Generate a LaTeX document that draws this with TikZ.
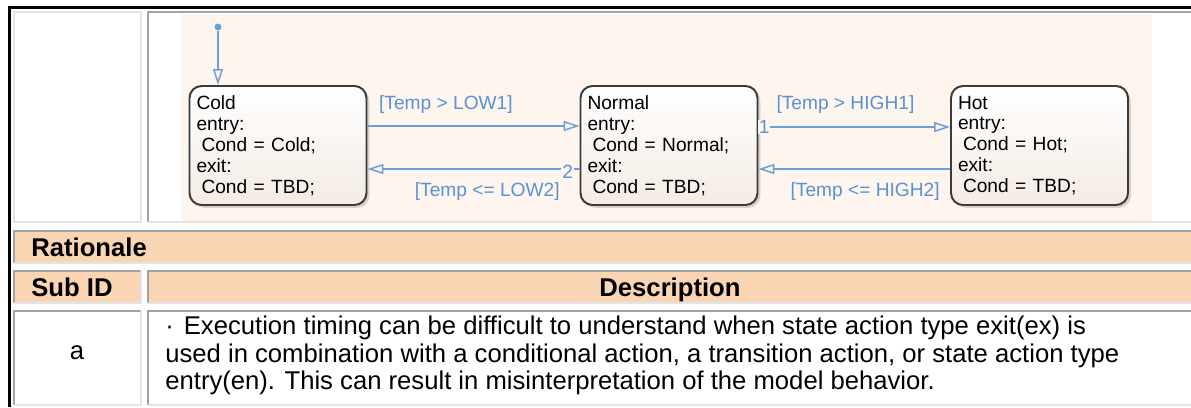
\documentclass[tikz,border=0pt]{standalone}
\usepackage{fontspec}
\setmainfont{Liberation Sans}
\usetikzlibrary{arrows.meta,positioning,shadows}

\definecolor{sfblue}{HTML}{6E9ED6}
\definecolor{sflabel}{HTML}{5B92D4}
\definecolor{stateedge}{HTML}{3A3A3A}
\definecolor{statebot}{HTML}{F4EBE4}
\definecolor{chartbg}{HTML}{FDF5EE}
\definecolor{headfill}{HTML}{FAD5B4}
\definecolor{celldark}{HTML}{A3A3A3}
\definecolor{celllight}{HTML}{E4E4E4}

\newcommand{\chartfont}{\fontsize{10.9}{11.9}\selectfont}
\newcommand{\tabfont}{\fontsize{14.6}{15.4}\selectfont}

\begin{document}
\begin{tikzpicture}[
  x=0.02cm, y=-0.02cm,
  state/.style={draw=stateedge, line width=1.1pt, rounded corners=0.24cm,
                top color=white, bottom color=statebot,
                drop shadow={shadow xshift=1.6pt, shadow yshift=-1.6pt,
                             opacity=0.3, fill=gray},
                minimum width=3.54cm, minimum height=2.38cm,
                text width=3.26cm, inner xsep=0.14cm, inner ysep=0pt,
                align=left, font=\chartfont},
  trans/.style={draw=sfblue, line width=0.85pt,
                -{Triangle[open,length=0.32cm,width=0.2cm]}},
  initdot/.style={circle, fill=sfblue, inner sep=0pt, minimum size=0.14cm},
  guard/.style={text=sflabel, font=\chartfont, inner sep=1pt},
  tnum/.style={text=sflabel, font=\chartfont, fill=chartbg, inner sep=0.5pt},
  frame/.style={draw=black, line width=1.7pt},
  dark/.style={draw=celldark, line width=1pt},
  light/.style={draw=celllight, line width=1pt},
  hdrtxt/.style={font=\tabfont\bfseries, inner sep=0pt},
  bodytxt/.style={font=\tabfont, inner sep=0pt},
]
  \useasboundingbox (0,0) rectangle (1191,407);

  %% outer frame
  \draw[frame] (9.5,407) |- (1191,7.5);

  %% picture row
  \draw[light] (14,12) rectangle (141,222);
  \fill[chartbg] (181,14) rectangle (1152,221);
  \draw[dark]  (148,222) |- (1191,12);
  \draw[light] (148,222) -- (1191,222);

  %% Rationale row
  \fill[headfill] (14,231) rectangle (1191,263);
  \draw[dark]  (14,263) |- (1191,231);
  \draw[light] (14,263) -- (1191,263);
  \node[hdrtxt, anchor=base west] (rat) at (31,256) {Rationale};

  %% Sub ID / Description row
  \fill[headfill] (14,271) rectangle (141,303);
  \fill[headfill] (148,271) rectangle (1191,303);
  \draw[dark]  (14,303) |- (141,271);
  \draw[dark]  (148,303) |- (1191,271);
  \draw[light] (14,303) -- (141,303) -- (141,271);
  \draw[light] (148,303) -- (1191,303);
  \node[hdrtxt, anchor=base west] (subid) at (31,296) {Sub ID};
  \node[hdrtxt, anchor=base] (desc) at (670,296) {Description};

  %% row a
  \draw[dark]  (14,405) |- (141,311);
  \draw[dark]  (148,405) |- (1191,311);
  \draw[light] (14,405) -- (141,405) -- (141,311);
  \draw[light] (148,405) -- (1191,405);
  \node[bodytxt, anchor=base] (sub_a) at (77,359) {a};
  \node[bodytxt, anchor=north west, align=left] (desc_a) at (165,316) {%
    ·\hspace{0.2cm}Execution timing can be difficult to understand when state action type exit(ex) is\\
    used in combination with a conditional action, a transition action, or state action type\\
    entry(en). This can result in misinterpretation of the model behavior.};

  %% states
  \node[state] (cold) at (278,145.5) {Cold\\
    entry:\\
    \hspace*{0.1cm}Cond = Cold;\\
    exit:\\
    \hspace*{0.1cm}Cond = TBD;};
  \node[state] (normal) at (669,145.5) {Normal\\
    entry:\\
    \hspace*{0.1cm}Cond = Normal;\\
    exit:\\
    \hspace*{0.1cm}Cond = TBD;};
  \node[state] (hot) at (1039.5,145.5) {Hot\\
    entry:\\
    \hspace*{0.1cm}Cond = Hot;\\
    exit:\\
    \hspace*{0.1cm}Cond = TBD;};

  %% default transition
  \node[initdot] (init) at (218,27) {};
  \draw[trans] (init) -- (init |- cold.north);

  %% transitions
  \draw[trans] ([yshift=0.39cm]cold.east) --
    node[guard, pos=0.37, yshift=0.42cm] (g_low1) {[Temp > LOW1]}
    ([yshift=0.39cm]normal.west);
  \draw[trans] ([yshift=-0.47cm]normal.west) --
    node[tnum, pos=0.056, yshift=-0.06cm] (n_two) {2}
    node[guard, pos=0.435, yshift=-0.46cm] (g_low2) {[Temp <= LOW2]}
    ([yshift=-0.47cm]cold.east);
  \draw[trans] ([yshift=0.37cm]normal.east) --
    node[tnum, pos=0.03] (n_one) {1}
    node[guard, pos=0.454, yshift=0.44cm] (g_high1) {[Temp > HIGH1]}
    ([yshift=0.37cm]hot.west);
  \draw[trans] ([yshift=-0.47cm]hot.west) --
    node[guard, pos=0.443, yshift=-0.46cm] (g_high2) {[Temp <= HIGH2]}
    ([yshift=-0.47cm]normal.east);
\end{tikzpicture}
\end{document}
